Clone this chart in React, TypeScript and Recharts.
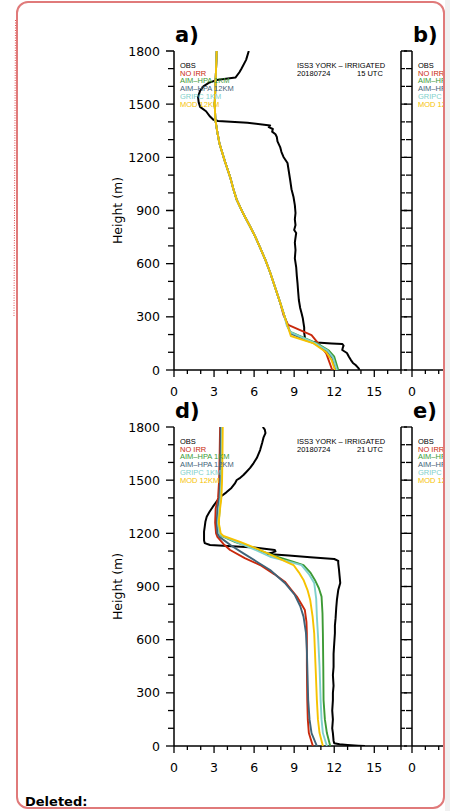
import React from "react";
import { ScatterChart, Scatter, XAxis, YAxis } from "recharts";

// each point: [height (m), value]
type Pt = [number, number];

const SERIES = ["OBS", "NO IRR", "AIM–HPA 1KM", "AIM–HPA 12KM", "GRIPC 1KM", "MOD 12KM"];
const COLORS = ["#000000", "#c9290c", "#3d9a35", "#3f6378", "#7fd0cb", "#f6c200"];

const X_TICKS = [0, 1, 2, 3, 4, 5, 6, 7, 8, 9, 10, 11, 12, 13, 14, 15, 16, 17];
const X_LABELS = [0, 3, 6, 9, 12, 15];
const Y_TICKS = [0, 100, 200, 300, 400, 500, 600, 700, 800, 900, 1000, 1100, 1200, 1300, 1400, 1500, 1600, 1700, 1800];
const Y_LABELS = [0, 300, 600, 900, 1200, 1500, 1800];

// panel a) 20180724 15 UTC
const A_OBS: Pt[] = [
  [1800, 5.6], [1750, 5.4], [1700, 5.05], [1680, 4.9], [1650, 4.6], [1640, 3.6], [1636, 3.2], [1620, 2.6],
  [1600, 2.2], [1575, 1.95], [1540, 1.8], [1510, 1.85], [1485, 1.95], [1460, 2.4], [1430, 2.7], [1412, 2.95],
  [1405, 3.3], [1395, 5.5], [1380, 7.2], [1370, 7.1], [1360, 7.4], [1345, 7.35], [1330, 7.6], [1315, 7.7],
  [1290, 7.75], [1258, 7.95], [1230, 8.05], [1202, 8.2], [1168, 8.5], [1120, 8.6], [1072, 8.7], [1020, 8.8],
  [976, 8.95], [930, 9.05], [886, 9.1], [850, 9.05], [818, 9.1], [790, 9.0], [773, 9.15], [720, 9.05],
  [677, 9.1], [630, 9.05], [581, 9.15], [530, 9.2], [490, 9.25], [440, 9.3], [395, 9.35], [350, 9.45],
  [321, 9.55], [290, 9.65], [265, 9.7], [240, 9.75], [209, 9.75], [185, 9.8], [169, 9.85], [160, 10.2],
  [155, 10.7], [150, 11.8], [147, 12.6], [138, 12.7], [128, 12.65], [113, 12.6], [96, 12.95], [75, 13.1],
  [56, 13.25], [40, 13.4], [28, 13.6], [12, 13.8], [0, 13.9],
];
const A_NOIRR: Pt[] = [
  [1800, 3.2], [1700, 3.15], [1600, 3.1], [1500, 3.05], [1410, 3.1], [1340, 3.25], [1280, 3.4], [1180, 3.8],
  [1090, 4.2], [1020, 4.45], [960, 4.7], [880, 5.2], [810, 5.7], [750, 6.1], [690, 6.45], [620, 6.85],
  [550, 7.2], [460, 7.6], [380, 7.95], [310, 8.2], [254, 8.55], [197, 10.3], [160, 10.7], [94, 11.4], [0, 11.85],
];
const A_AIM1: Pt[] = [
  [1800, 3.2], [1700, 3.15], [1600, 3.1], [1500, 3.05], [1410, 3.1], [1340, 3.25], [1280, 3.4], [1180, 3.8],
  [1090, 4.2], [1020, 4.45], [960, 4.7], [880, 5.2], [810, 5.7], [750, 6.1], [690, 6.45], [620, 6.85],
  [550, 7.2], [460, 7.6], [380, 7.95], [310, 8.25], [250, 8.5], [215, 8.7], [150, 10.7], [110, 11.6], [75, 12.0], [0, 12.3],
];
const A_AIM12: Pt[] = [
  [1800, 3.2], [1700, 3.15], [1600, 3.1], [1500, 3.05], [1410, 3.1], [1340, 3.25], [1280, 3.4], [1180, 3.8],
  [1090, 4.2], [1020, 4.45], [960, 4.7], [880, 5.2], [810, 5.7], [750, 6.1], [690, 6.45], [620, 6.85],
  [550, 7.2], [460, 7.6], [380, 7.95], [310, 8.25], [250, 8.5], [205, 8.75], [150, 10.5], [108, 11.45], [70, 11.85], [0, 12.15],
];
const A_GRIPC: Pt[] = [
  [1800, 3.2], [1700, 3.15], [1600, 3.1], [1500, 3.05], [1410, 3.1], [1340, 3.25], [1280, 3.4], [1180, 3.8],
  [1090, 4.2], [1020, 4.45], [960, 4.7], [880, 5.2], [810, 5.7], [750, 6.1], [690, 6.45], [620, 6.85],
  [550, 7.2], [460, 7.6], [380, 7.95], [310, 8.25], [250, 8.45], [212, 8.75], [150, 10.6], [110, 11.5], [72, 11.9], [0, 12.2],
];
const A_MOD: Pt[] = [
  [1800, 3.2], [1700, 3.15], [1600, 3.1], [1500, 3.05], [1410, 3.1], [1340, 3.25], [1280, 3.4], [1180, 3.8],
  [1090, 4.2], [1020, 4.45], [960, 4.7], [880, 5.2], [810, 5.7], [750, 6.1], [690, 6.45], [620, 6.85],
  [550, 7.2], [460, 7.6], [380, 7.95], [310, 8.25], [240, 8.55], [192, 8.75], [152, 10.4], [100, 11.4], [56, 11.8], [0, 12.05],
];

// panel d) 20180724 21 UTC
const D_OBS: Pt[] = [
  [1800, 6.65], [1785, 6.8], [1766, 6.85], [1740, 6.7], [1710, 6.6], [1670, 6.45], [1625, 6.2], [1595, 5.95],
  [1569, 5.7], [1545, 5.4], [1529, 5.2], [1510, 4.9], [1501, 4.7], [1480, 4.55], [1456, 4.3], [1430, 3.9],
  [1405, 3.45], [1380, 3.2], [1349, 2.9], [1320, 2.65], [1294, 2.45], [1265, 2.35], [1237, 2.3], [1210, 2.25],
  [1181, 2.25], [1160, 2.25], [1145, 2.3], [1134, 2.7], [1120, 6.0], [1106, 7.55], [1098, 7.6], [1090, 7.3],
  [1084, 7.0], [1075, 8.6], [1065, 10.2], [1055, 12.0], [1045, 12.3], [1032, 12.3], [1000, 12.35], [960, 12.4],
  [920, 12.45], [880, 12.3], [824, 12.2], [780, 12.15], [720, 12.1], [680, 12.05], [636, 12.05], [580, 12.0],
  [520, 11.95], [446, 11.95], [400, 11.9], [340, 11.95], [300, 11.9], [259, 11.9], [200, 11.85], [150, 11.9],
  [100, 11.85], [73, 11.9], [30, 11.95], [15, 12.0], [10, 12.4], [6, 13.0], [2, 13.8], [0, 14.3],
];
const D_NOIRR: Pt[] = [
  [1800, 3.45], [1650, 3.42], [1500, 3.38], [1400, 3.3], [1340, 3.12], [1260, 3.08], [1200, 3.15], [1180, 3.25],
  [1140, 3.7], [1106, 4.2], [1060, 5.3], [1021, 6.45], [970, 7.5], [927, 8.3], [880, 8.8], [843, 9.2],
  [800, 9.55], [767, 9.8], [700, 9.92], [636, 9.95], [450, 9.95], [259, 9.98], [150, 10.02], [73, 10.1], [0, 10.4],
];
const D_AIM1: Pt[] = [
  [1800, 3.55], [1650, 3.55], [1500, 3.52], [1400, 3.5], [1340, 3.42], [1260, 3.35], [1200, 3.42], [1185, 3.55],
  [1150, 4.6], [1110, 6.2], [1068, 7.7], [1040, 8.9], [1021, 9.7], [980, 10.2], [937, 10.55], [890, 10.85],
  [843, 11.05], [750, 11.12], [636, 11.15], [450, 11.18], [259, 11.2], [150, 11.3], [73, 11.45], [0, 11.7],
];
const D_AIM12: Pt[] = [
  [1800, 3.5], [1650, 3.48], [1500, 3.45], [1400, 3.4], [1340, 3.25], [1260, 3.2], [1200, 3.25], [1180, 3.4],
  [1130, 4.3], [1087, 5.2], [1040, 6.2], [993, 7.2], [920, 8.3], [852, 9.05], [790, 9.45], [730, 9.7],
  [640, 9.88], [542, 9.95], [400, 10.0], [259, 10.05], [150, 10.15], [73, 10.3], [0, 10.7],
];
const D_GRIPC: Pt[] = [
  [1800, 3.6], [1650, 3.58], [1500, 3.55], [1400, 3.48], [1340, 3.4], [1260, 3.3], [1200, 3.4], [1185, 3.6],
  [1150, 4.7], [1110, 6.0], [1068, 7.2], [1040, 8.6], [1021, 9.55], [970, 10.1], [920, 10.5], [830, 10.65],
  [730, 10.7], [600, 10.8], [448, 10.9], [259, 10.98], [150, 11.05], [73, 11.15], [0, 11.45],
];
const D_MOD: Pt[] = [
  [1800, 3.65], [1650, 3.63], [1500, 3.6], [1400, 3.55], [1340, 3.45], [1260, 3.35], [1200, 3.5], [1185, 3.7],
  [1150, 5.0], [1106, 6.45], [1060, 7.8], [1021, 8.95], [980, 9.35], [937, 9.7], [880, 10.0], [824, 10.2],
  [730, 10.38], [636, 10.5], [450, 10.6], [259, 10.7], [150, 10.78], [73, 10.9], [0, 11.15],
];

const NUM_FONT = "'DejaVu Sans', sans-serif";
const TXT_FONT = "'Liberation Sans', Arial, sans-serif";
const AXIS = { stroke: "#000", strokeWidth: 1.5 };

// plot area size (px)
const PW = 227;
const PH = 319;
// labels to the right of this (page x) sit under the comment box edge
const BOX_EDGE = 440;

const NoDot = () => <g />;

function LeftTick(props: any) {
  const { x, y, payload, showLabel } = props;
  const major = Y_LABELS.includes(payload.value);
  return (
    <g>
      <line x1={x - (major ? 8 : 6)} x2={x} y1={y} y2={y} stroke="#000" strokeWidth={1.3} />
      {showLabel && major && (
        <text x={x - 14} y={y} dy="0.36em" textAnchor="end" fontSize={12.5} fontFamily={NUM_FONT} fill="#000">
          {payload.value}
        </text>
      )}
    </g>
  );
}

function RightTick(props: any) {
  const { x, y, payload } = props;
  const major = Y_LABELS.includes(payload.value);
  return <line x1={x} x2={x + (major ? 6 : 4)} y1={y} y2={y} stroke="#000" strokeWidth={1.3} />;
}

function BottomTick(props: any) {
  const { x, y, payload, pageOffset } = props;
  const major = X_LABELS.includes(payload.value);
  const visible = x + pageOffset < BOX_EDGE;
  return (
    <g>
      <line x1={x} x2={x} y1={y} y2={y + (major ? 7 : 4)} stroke="#000" strokeWidth={1.3} />
      {major && visible && (
        <text x={x} y={y + 26} textAnchor="middle" fontSize={12.5} fontFamily={NUM_FONT} fill="#000">
          {payload.value}
        </text>
      )}
    </g>
  );
}

function Panel({ left, top, series, showYLabels }: { left: number; top: number; series: Pt[][]; showYLabels: boolean }) {
  const chartLeft = left - 74;
  return (
    <div style={{ position: "absolute", left: chartLeft, top: top - 31 }}>
      <ScatterChart width={74 + PW + 20} height={31 + PH + 40} margin={{ top: 31, right: 10, bottom: 10, left: 14 }}>
        <XAxis
          type="number"
          dataKey="v"
          domain={[0, 17]}
          ticks={X_TICKS}
          interval={0}
          allowDataOverflow
          height={30}
          tickSize={0}
          tickMargin={0}
          tickLine={false}
          axisLine={AXIS}
          tick={(p: any) => <BottomTick {...p} pageOffset={chartLeft} />}
        />
        <XAxis
          xAxisId="top"
          orientation="top"
          type="number"
          dataKey="v"
          domain={[0, 17]}
          allowDataOverflow
          height={0}
          tick={false}
          tickLine={false}
          axisLine={AXIS}
        />
        <YAxis
          type="number"
          dataKey="h"
          domain={[0, 1800]}
          ticks={Y_TICKS}
          interval={0}
          allowDataOverflow
          width={60}
          tickSize={0}
          tickMargin={0}
          tickLine={false}
          axisLine={AXIS}
          tick={(p: any) => <LeftTick {...p} showLabel={showYLabels} />}
        />
        <YAxis
          yAxisId="right"
          orientation="right"
          type="number"
          dataKey="h"
          domain={[0, 1800]}
          ticks={Y_TICKS}
          interval={0}
          allowDataOverflow
          width={10}
          tickSize={0}
          tickMargin={0}
          tickLine={false}
          axisLine={AXIS}
          tick={(p: any) => <RightTick {...p} />}
        />
        {series.map((pts, i) => (
          <Scatter
            key={SERIES[i]}
            name={SERIES[i]}
            data={pts.map(([h, v]) => ({ h, v }))}
            fill={COLORS[i]}
            line={{ stroke: COLORS[i], strokeWidth: i === 0 ? 2 : 1.9, strokeLinejoin: "round" }}
            lineType="joint"
            shape={NoDot}
            isAnimationActive={false}
          />
        ))}
      </ScatterChart>
    </div>
  );
}

function PanelText({ left, top, tag, hour }: { left: number; top: number; tag: string; hour?: string }) {
  return (
    <g>
      <text x={left + 1} y={top - 9} fontSize={21} fontWeight="bold" fontFamily={NUM_FONT} fill="#000">
        {tag}
      </text>
      {SERIES.map((s, i) => (
        <text key={s} x={left + 6} y={top + 16.7 + i * 7.8} fontSize={7.5} fontFamily={TXT_FONT} fill={COLORS[i]}>
          {s}
        </text>
      ))}
      {hour && (
        <g fontSize={7.5} fontFamily={TXT_FONT} fill="#000">
          <text x={left + 123} y={top + 16.7}>ISS3 YORK – IRRIGATED</text>
          <text x={left + 123} y={top + 24.5}>20180724</text>
          <text x={left + 183} y={top + 24.5}>{hour} UTC</text>
        </g>
      )}
    </g>
  );
}

export default function App() {
  const aSeries = [A_OBS, A_NOIRR, A_AIM1, A_AIM12, A_GRIPC, A_MOD];
  const dSeries = [D_OBS, D_NOIRR, D_AIM1, D_AIM12, D_GRIPC, D_MOD];
  return (
    <div style={{ position: "absolute", left: 0, top: 0, width: 450, height: 811, background: "#fff", overflow: "hidden" }}>
      <div style={{ position: "absolute", left: 445, top: 0, width: 5, height: 811, background: "#f0f0f0" }} />
      <svg width={450} height={811} style={{ position: "absolute", left: 0, top: 0 }}>
        <line x1={15.5} y1={20} x2={14} y2={316} stroke="#e05555" strokeWidth={1} strokeDasharray="1 1.5" />
      </svg>
      <div
        style={{
          position: "absolute",
          left: 16,
          top: 1,
          width: 425,
          height: 804,
          border: "2px solid #e07a7a",
          borderRadius: 12,
          overflow: "hidden",
          background: "#fff",
        }}
      >
        <div style={{ position: "absolute", left: -18, top: -3, width: 450, height: 811 }}>
          <Panel left={174} top={51} series={aSeries} showYLabels />
          <Panel left={412} top={51} series={[]} showYLabels={false} />
          <Panel left={174} top={427} series={dSeries} showYLabels />
          <Panel left={412} top={427} series={[]} showYLabels={false} />
          <svg width={450} height={811} style={{ position: "absolute", left: 0, top: 0, pointerEvents: "none" }}>
            <PanelText left={174} top={51} tag="a)" hour="15" />
            <PanelText left={412} top={51} tag="b)" />
            <PanelText left={174} top={427} tag="d)" hour="21" />
            <PanelText left={412} top={427} tag="e)" />
            <text transform="translate(122,210.5) rotate(-90)" textAnchor="middle" fontSize={12.5} fontFamily={NUM_FONT} fill="#000">
              Height (m)
            </text>
            <text transform="translate(122,586.5) rotate(-90)" textAnchor="middle" fontSize={12.5} fontFamily={NUM_FONT} fill="#000">
              Height (m)
            </text>
            <text x={25} y={806} fontSize={13} fontWeight="bold" fontFamily={NUM_FONT} fill="#000">
              Deleted:
            </text>
          </svg>
        </div>
      </div>
    </div>
  );
}
